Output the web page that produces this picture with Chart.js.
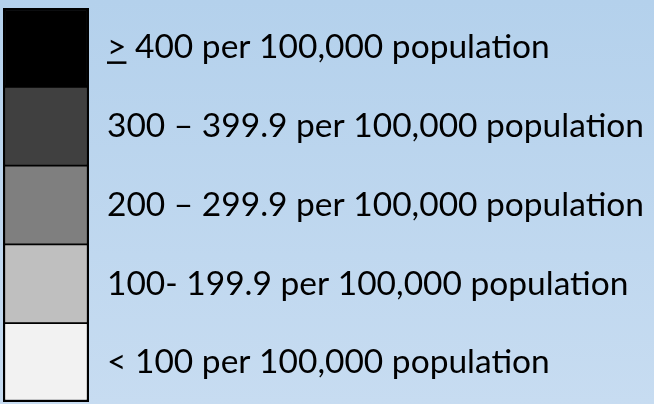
<!DOCTYPE html>
<html>
<head>
<meta charset="utf-8">
<script src="https://cdn.jsdelivr.net/npm/chart.js@4/dist/chart.umd.min.js"></script>
<style>
  html, body { margin: 0; padding: 0; }
  body { width: 654px; height: 404px; overflow: hidden;
         background: linear-gradient(to bottom, #b4d1ec, #c7dcf1); }
  #wrap { width: 654px; height: 404px; }
</style>
</head>
<body>
<div id="wrap"><canvas id="legend" width="654" height="404"></canvas></div>
<script>
// legend classes, top to bottom
const labels = [
  "> 400 per 100,000 population",
  "300 \u2013 399.9 per 100,000 population",
  "200 \u2013 299.9 per 100,000 population",
  "100- 199.9 per 100,000 population",
  "< 100 per 100,000 population",
];
const fills = ["#000000", "#404040", "#7f7f7f", "#bfbfbf", "#f2f2f2"];
const swatch = [1, 1, 1, 1, 1];

// the first label is a ">" underlined, as Word writes "greater or equal"
const underlineFirst = {
  id: "underlineFirst",
  afterDraw(chart) {
    const ctx = chart.ctx;
    const y = chart.scales.y;
    const font = Chart.helpers.toFont(y.options.ticks.font);
    ctx.save();
    ctx.font = font.string;
    const w = ctx.measureText(">").width;
    const x0 = chart.chartArea.right + y.options.ticks.padding;
    const yc = y.getPixelForTick(0) + 14;
    ctx.fillStyle = "#000";
    ctx.fillRect(x0, yc, w, 2.5);
    ctx.restore();
  },
};

new Chart(document.getElementById("legend"), {
  type: "bar",
  data: {
    labels: labels,
    datasets: [{
      data: swatch,
      backgroundColor: fills,
      borderColor: "#000",
      borderWidth: (c) => ({
        left: 2.5, right: 2.5,
        top: c.dataIndex === 0 ? 2.5 : 1.25,
        bottom: c.dataIndex === labels.length - 1 ? 2.5 : 1.25,
      }),
      borderSkipped: false,
      categoryPercentage: 1,
      barPercentage: 1,
    }],
  },
  options: {
    indexAxis: "y",
    responsive: false,
    animation: false,
    layout: { padding: { left: 3, top: 8, bottom: 2, right: 0 } },
    plugins: { legend: { display: false }, tooltip: { enabled: false } },
    scales: {
      x: { display: false, min: 0, max: 1 },
      y: {
        position: "right",
        grid: { display: false, drawTicks: false },
        border: { display: false },
        ticks: {
          color: "#000",
          padding: 18,
          font: { family: "Lato", size: 33.5 },
        },
        afterFit(scale) {
          scale.width = 565;
          scale.paddingTop = 0;
          scale.paddingBottom = 0;
        },
      },
    },
  },
  plugins: [underlineFirst],
});
</script>
</body>
</html>
